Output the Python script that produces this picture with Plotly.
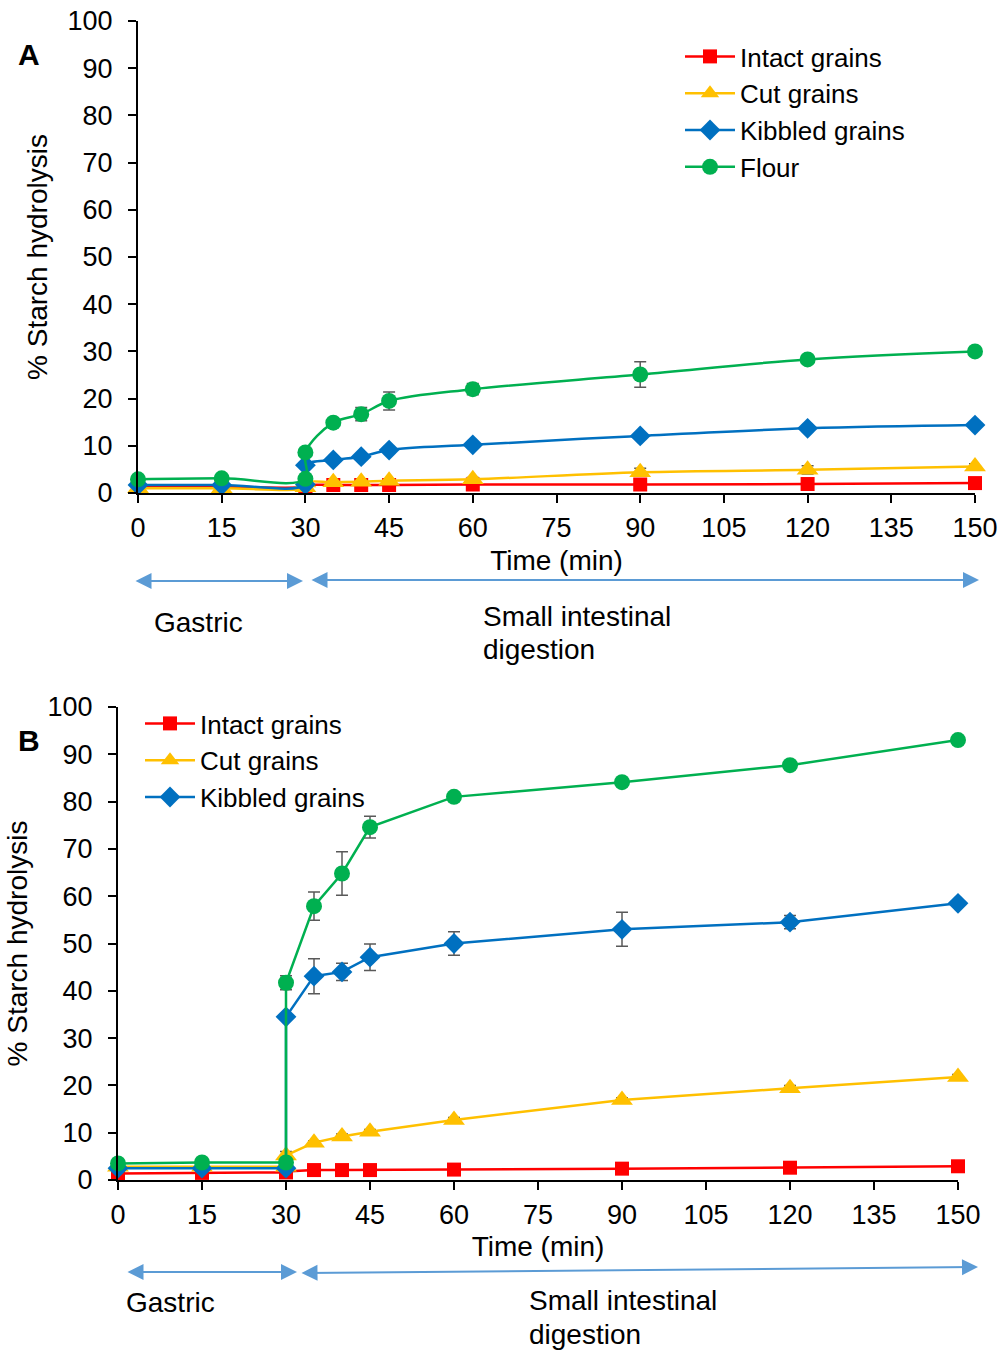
import plotly.graph_objects as go

# Sampling times (min); 30 min appears twice: end of gastric / start of small intestinal phase
time_min = [0, 15, 30, 30, 35, 40, 45, 60, 90, 120, 150]
x_ticks = list(range(0, 151, 15))
y_ticks = list(range(0, 101, 10))

# Panel A: % starch hydrolysis
a_intact = [1.3, 1.3, 1.4, 1.6, 1.7, 1.7, 1.7, 1.8, 1.8, 1.9, 2.1]
a_cut = [1.0, 1.0, 1.2, 2.2, 2.3, 2.4, 2.6, 2.9, 4.4, 4.9, 5.6]
a_kibbled = [1.7, 1.7, 1.8, 5.9, 7.0, 7.7, 9.1, 10.2, 12.1, 13.7, 14.4]
a_flour = [2.9, 3.1, 3.0, 8.6, 14.9, 16.7, 19.5, 22.0, 25.1, 28.3, 30.0]
a_intact_err = [0, 0, 0, 0.2, 0.2, 0.2, 0.2, 0.2, 0.2, 0.2, 0.3]
a_cut_err = [0, 0, 0, 0.3, 0.3, 0.3, 0.3, 0.4, 0.85, 0.85, 0.6]
a_kibbled_err = [0, 0, 0, 0.3, 0.3, 0.4, 0.4, 0.4, 0.5, 0.4, 0.4]
a_flour_err = [0, 0, 0, 0.4, 0.6, 1.4, 1.9, 1.2, 2.7, 0.5, 0.4]

# Panel B: % starch hydrolysis
b_intact = [1.4, 1.5, 1.6, 1.8, 2.1, 2.1, 2.1, 2.2, 2.4, 2.6, 2.9]
b_cut = [2.8, 2.8, 2.8, 5.2, 7.9, 9.2, 10.2, 12.7, 16.9, 19.4, 21.8]
b_kibbled = [2.5, 2.5, 2.5, 34.5, 43.1, 44.0, 47.1, 50.0, 53.0, 54.5, 58.5]
b_flour = [3.5, 3.7, 3.7, 41.7, 57.9, 64.8, 74.6, 81.0, 84.1, 87.7, 93.0]
b_intact_err = [0, 0, 0, 0.2, 0.2, 0.2, 0.2, 0.2, 0.2, 0.3, 0.3]
b_cut_err = [0, 0, 0, 0.8, 0.4, 0.5, 0.5, 0.5, 0.5, 0.6, 0.5]
b_kibbled_err = [0, 0, 0, 0.5, 3.7, 1.8, 2.8, 2.5, 3.6, 1.4, 0.5]
b_flour_err = [0, 0, 0, 1.5, 3.0, 4.6, 2.3, 0.5, 0.5, 0.5, 0.5]

series_names = ["Intact grains", "Cut grains", "Kibbled grains", "Flour"]
colors = ["#FF0000", "#FFC000", "#0070C0", "#00B050"]
symbols = ["square", "triangle-up", "diamond", "circle"]
sizes = [14, 19, 16, 16]

W, H = 1003, 1351
FONT = "Liberation Sans, Arial, sans-serif"


def px_x(p):
    return p / W


def px_y(p):
    return 1 - p / H


fig = go.Figure()

panels = [
    ("x", "y", "legend", "spline",
     [a_intact, a_cut, a_kibbled, a_flour],
     [a_intact_err, a_cut_err, a_kibbled_err, a_flour_err],
     [True, True, True, True]),
    ("x2", "y2", "legend2", "linear",
     [b_intact, b_cut, b_kibbled, b_flour],
     [b_intact_err, b_cut_err, b_kibbled_err, b_flour_err],
     [True, True, True, False]),
]

for xa, ya, leg, shape, values, errs, shows in panels:
    for name, col, sym, sz, vals, err, show in zip(series_names, colors, symbols, sizes,
                                                    values, errs, shows):
        fig.add_trace(go.Scatter(
            x=time_min, y=vals, name=name, mode="lines+markers",
            xaxis=xa, yaxis=ya, legend=leg, showlegend=show,
            line=dict(color=col, width=2.5, shape=shape),
            marker=dict(symbol=sym, size=sz, color=col),
            error_y=dict(type="data", array=err, visible=True,
                         color="#595959", thickness=1.5, width=6),
            cliponaxis=False,
        ))

axis_common = dict(
    showline=True, linecolor="black", linewidth=2,
    ticks="outside", ticklen=8, tickwidth=2, tickcolor="black",
    showgrid=False, zeroline=False, automargin=False,
    tickfont=dict(family=FONT, size=27, color="black"),
)

xa_dom = [px_x(138), px_x(975)]
ya_dom = [px_y(493), px_y(21)]
xb_dom = [px_x(118), px_x(958)]
yb_dom = [px_y(1180), px_y(707)]

fig.update_layout(
    width=W, height=H,
    margin=dict(l=0, r=0, t=0, b=0, autoexpand=False),
    paper_bgcolor="white", plot_bgcolor="white",
    font=dict(family=FONT, size=28, color="black"),
    xaxis=dict(domain=xa_dom, anchor="y", range=[0, 150], tickvals=x_ticks,
               ticklabelstandoff=2,
               title=dict(text="Time (min)", font=dict(size=28), standoff=8),
               **axis_common),
    yaxis=dict(domain=ya_dom, anchor="x", range=[0, 100], tickvals=y_ticks,
               ticklabelstandoff=10,
               title=dict(text="% Starch hydrolysis", font=dict(size=28), standoff=12),
               **axis_common),
    xaxis2=dict(domain=xb_dom, anchor="y2", range=[0, 150], tickvals=x_ticks,
                ticklabelstandoff=2,
                title=dict(text="Time (min)", font=dict(size=28), standoff=7),
                **axis_common),
    yaxis2=dict(domain=yb_dom, anchor="x2", range=[0, 100], tickvals=y_ticks,
                ticklabelstandoff=10,
                title=dict(text="% Starch hydrolysis", font=dict(size=28), standoff=12),
                **axis_common),
    legend=dict(x=px_x(680), y=px_y(33), xanchor="left", yanchor="top",
                font=dict(family=FONT, size=26, color="black"),
                bgcolor="rgba(0,0,0,0)", itemwidth=50, tracegroupgap=0),
    legend2=dict(x=px_x(140), y=px_y(700), xanchor="left", yanchor="top",
                 font=dict(family=FONT, size=26, color="black"),
                 bgcolor="rgba(0,0,0,0)", itemwidth=50, tracegroupgap=0),
)

annotations = []

# Panel letters
for letter, ypx in [("A", 55), ("B", 740)]:
    annotations.append(dict(
        text=f"<b>{letter}</b>", xref="paper", yref="paper",
        x=px_x(16), y=px_y(ypx), xanchor="left", yanchor="middle",
        showarrow=False, font=dict(family=FONT, size=30, color="black")))

# Digestion-phase arrows (double headed)
arrow_color = "#5B9BD5"
phase_arrows = [
    (134, 581, 303, 581),
    (310, 580, 979, 580),
    (126, 1272, 297, 1272),
    (300, 1273, 978, 1267),
]
for x0, y0, x1, y1 in phase_arrows:
    annotations.append(dict(
        xref="paper", yref="paper", x=px_x(x1), y=px_y(y1),
        ax=x0 - x1, ay=y0 - y1, axref="pixel", ayref="pixel",
        text="", showarrow=True, arrowside="end+start",
        arrowhead=2, startarrowhead=2, arrowsize=1.6, startarrowsize=1.6,
        arrowwidth=2, arrowcolor=arrow_color, standoff=0, startstandoff=0))

# Phase labels
phase_labels = [
    ("Gastric", 152, 622),
    ("Small intestinal", 481, 616),
    ("digestion", 481, 649),
    ("Gastric", 124, 1302),
    ("Small intestinal", 527, 1300),
    ("digestion", 527, 1334),
]
for txt, xp, yp in phase_labels:
    annotations.append(dict(
        text=txt, xref="paper", yref="paper", x=px_x(xp), y=px_y(yp),
        xanchor="left", yanchor="middle", showarrow=False,
        font=dict(family=FONT, size=28, color="black")))

fig.update_layout(annotations=annotations)

fig.write_html("out.html")
